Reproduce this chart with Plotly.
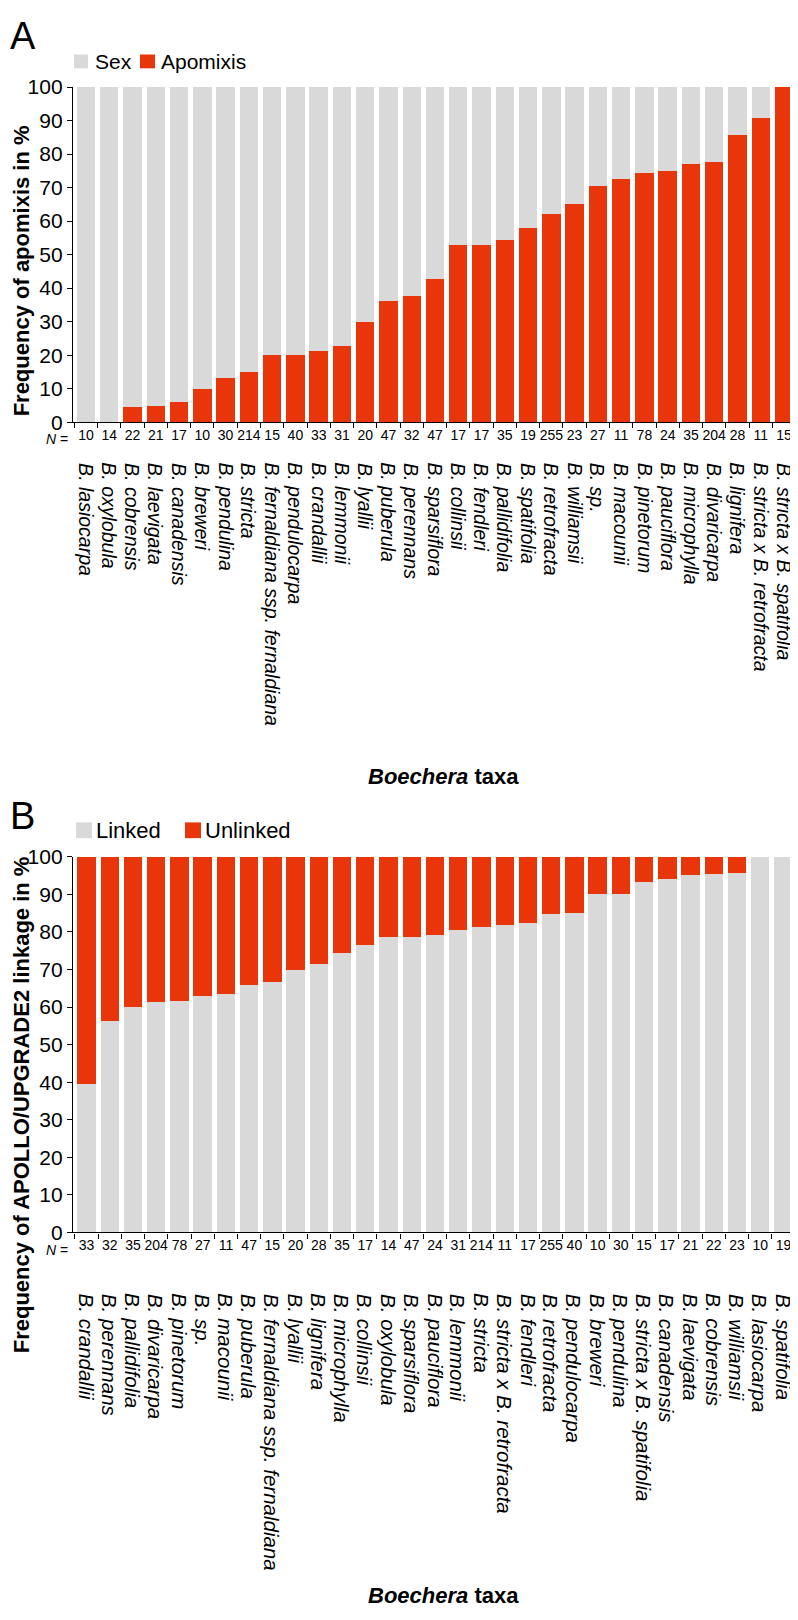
import plotly.graph_objects as go

# page is 798x1620; the browser body has an 8px margin, so the figure is 790x1612
OX, OY = 8, 8
W, H = 790, 1612

# ---------------- Panel A data ----------------
taxa_a = ["B. lasiocarpa", "B. oxylobula", "B. cobrensis", "B. laevigata", "B. canadensis",
          "B. breweri", "B. pendulina", "B. stricta", "B. fernaldiana ssp. fernaldiana",
          "B. pendulocarpa", "B. crandallii", "B. lemmonii", "B. lyallii", "B. puberula",
          "B. perennans", "B. sparsiflora", "B. collinsii", "B. fendleri", "B. pallidifolia",
          "B. spatifolia", "B. retrofracta", "B. williamsii", "B. sp.", "B. macounii",
          "B. pinetorum", "B. pauciflora", "B. microphylla", "B. divaricarpa", "B. lignifera",
          "B. stricta x B. retrofracta", "B. stricta x B. spatifolia"]
n_a = [10, 14, 22, 21, 17, 10, 30, 214, 15, 40, 33, 31, 20, 47, 32, 47, 17, 17, 35, 19,
       255, 23, 27, 11, 78, 24, 35, 204, 28, 11, 15]
apomixis_pct = [0, 0, 4.5, 4.8, 5.9, 10.0, 13.3, 15.0, 20.0, 20.0, 21.2, 22.6, 30.0, 36.2,
                37.5, 42.6, 52.9, 52.9, 54.3, 57.9, 62.0, 65.2, 70.4, 72.7, 74.4, 75.0,
                77.1, 77.5, 85.7, 90.9, 100]
sex_pct = [100, 100, 95.5, 95.2, 94.1, 90.0, 86.7, 85.0, 80.0, 80.0, 78.8, 77.4, 70.0, 63.8,
           62.5, 57.4, 47.1, 47.1, 45.7, 42.1, 38.0, 34.8, 29.6, 27.3, 25.6, 25.0,
           22.9, 22.5, 14.3, 9.1, 0]

# ---------------- Panel B data ----------------
taxa_b = ["B. crandallii", "B. perennans", "B. pallidifolia", "B. divaricarpa", "B. pinetorum",
          "B. sp.", "B. macounii", "B. puberula", "B. fernaldiana ssp. fernaldiana",
          "B. lyallii", "B. lignifera", "B. microphylla", "B. collinsii", "B. oxylobula",
          "B. sparsiflora", "B. pauciflora", "B. lemmonii", "B. stricta",
          "B. stricta x B. retrofracta", "B. fendleri", "B. retrofracta", "B. pendulocarpa",
          "B. breweri", "B. pendulina", "B. stricta x B. spatifolia", "B. canadensis",
          "B. laevigata", "B. cobrensis", "B. williamsii", "B. lasiocarpa", "B. spatifolia"]
n_b = [33, 32, 35, 204, 78, 27, 11, 47, 15, 20, 28, 35, 17, 14, 47, 24, 31, 214, 11, 17,
       255, 40, 10, 30, 15, 17, 21, 22, 23, 10, 19]
linked_pct = [39.4, 56.3, 60.0, 61.3, 61.5, 63.0, 63.6, 66.0, 66.7, 70.0, 71.4, 74.3, 76.5,
              78.6, 78.7, 79.2, 80.6, 81.3, 81.8, 82.4, 84.7, 85.0, 90.0, 90.0, 93.3, 94.1,
              95.2, 95.5, 95.7, 100, 100]
unlinked_pct = [60.6, 43.7, 40.0, 38.7, 38.5, 37.0, 36.4, 34.0, 33.3, 30.0, 28.6, 25.7, 23.5,
                21.4, 21.3, 20.8, 19.4, 18.7, 18.2, 17.6, 15.3, 15.0, 10.0, 10.0, 6.7, 5.9,
                4.8, 4.5, 4.3, 0, 0]

GRAY = "#d9d9d9"
RED = "#e8360a"
FONT = "Liberation Sans, Arial, Helvetica, sans-serif"


def px(x):
    return (x - OX) / W


def py(y):
    return 1 - (y - OY) / H


fig = go.Figure()
fig.add_trace(go.Bar(x=taxa_a, y=apomixis_pct, name="Apomixis", marker=dict(color=RED, line=dict(width=0)),
                     xaxis="x", yaxis="y", showlegend=False))
fig.add_trace(go.Bar(x=taxa_a, y=sex_pct, name="Sex", marker=dict(color=GRAY, line=dict(width=0)),
                     xaxis="x", yaxis="y", showlegend=False))
fig.add_trace(go.Bar(x=taxa_b, y=linked_pct, name="Linked", marker=dict(color=GRAY, line=dict(width=0)),
                     xaxis="x2", yaxis="y2", showlegend=False))
fig.add_trace(go.Bar(x=taxa_b, y=unlinked_pct, name="Unlinked", marker=dict(color=RED, line=dict(width=0)),
                     xaxis="x2", yaxis="y2", showlegend=False))

XDOM = [px(73), px(797)]
axis_common = dict(showline=True, linecolor="black", linewidth=1.4, ticks="outside",
                   tickcolor="black", tickwidth=1.4, showgrid=False, zeroline=False)

xa = dict(axis_common, domain=XDOM, type="category", tickson="boundaries", ticklen=5,
          tickangle=0, tickfont=dict(family=FONT, size=14, color="black"))
ya = dict(axis_common, range=[0, 100], dtick=10, ticklen=5,
          tickfont=dict(family=FONT, size=21, color="black"))

fig.update_layout(
    width=W, height=H, margin=dict(l=0, r=0, t=0, b=0),
    paper_bgcolor="white", plot_bgcolor="white",
    barmode="stack", bargap=0.21,
    xaxis=dict(xa, anchor="y", categoryorder="array", categoryarray=taxa_a,
               tickmode="array", tickvals=taxa_a, ticktext=[str(v) for v in n_a]),
    yaxis=dict(ya, anchor="x", domain=[py(416), py(76)]),
    xaxis2=dict(xa, anchor="y2", categoryorder="array", categoryarray=taxa_b,
                tickmode="array", tickvals=taxa_b, ticktext=[str(v) for v in n_b]),
    yaxis2=dict(ya, anchor="x2", domain=[py(1238), py(857)]),
    showlegend=False,
)

ann = []
shapes = []


def txt(x, y, text, size, xanchor="center", yanchor="middle", angle=0, xref="paper"):
    ann.append(dict(x=x, y=y, xref=xref, yref="paper", text=text, showarrow=False,
                    xanchor=xanchor, yanchor=yanchor, textangle=angle,
                    font=dict(family=FONT, size=size, color="black")))


# taxon names (rotated)
for name in taxa_a:
    txt(name, py(455), f"<i>{name}</i>", 19.5, yanchor="top", angle=90, xref="x")
for name in taxa_b:
    txt(name, py(1298), f"<i>{name}</i>", 20.5, yanchor="top", angle=90, xref="x2")

# N = labels
txt(px(70), py(433), "<i>N</i> =", 14, xanchor="right")
txt(px(70), py(1256), "<i>N</i> =", 14, xanchor="right")

# axis titles
txt(px(21), py(263), "<b>Frequency of apomixis in %</b>", 22, angle=-90)
txt(px(21), py(1109), "<b>Frequency of APOLLO/UPGRADE2 linkage in %</b>", 22, angle=-90)
txt(px(443), py(775), "<b><i>Boechera</i> taxa</b>", 22)
txt(px(443), py(1606), "<b><i>Boechera</i> taxa</b>", 22)

# panel letters
txt(px(8), py(24), "A", 38, xanchor="left")
txt(px(8), py(816), "B", 38, xanchor="left")


# legends (drawn as swatches + labels)
def legend_item(x0, x1, yc, sz, color, label, tx, fsize):
    shapes.append(dict(type="rect", xref="paper", yref="paper", x0=px(x0), x1=px(x1),
                       y0=py(yc + sz / 2), y1=py(yc - sz / 2), fillcolor=color, line=dict(width=0)))
    txt(px(tx), py(yc), label, fsize, xanchor="left")


legend_item(74, 88, 50, 14, GRAY, "Sex", 93, 21)
legend_item(140, 155, 50, 14, RED, "Apomixis", 159, 21)
legend_item(76, 92, 830, 16, GRAY, "Linked", 94, 22)
legend_item(185, 201, 830, 16, RED, "Unlinked", 203, 22)

fig.update_layout(annotations=ann, shapes=shapes)
fig.write_html("out.html")
